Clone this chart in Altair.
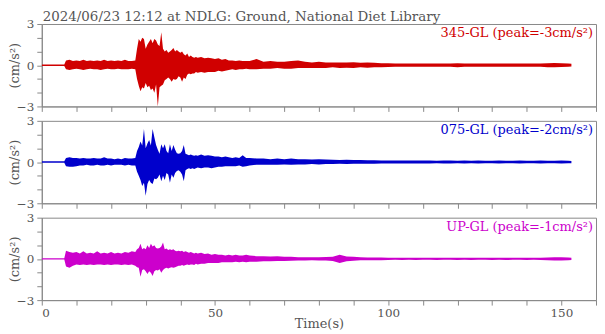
import altair as alt
import pandas as pd

# ---- time grid (s) ----
TIME = ([0, 6.5] + list(range(7, 28)) + [27.5 + 0.5 * i for i in range(36)]
        + list(range(46, 61)) + list(range(62, 153, 2)) + [152.9])

# ---- 345-GL envelope (cm/s^2) ----
U345 = ([0.05, 0.05]
        + [0.35, 0.4, 0.3, 0.35, 0.3, 0.4, 0.3, 0.35, 0.3, 0.35, 0.3, 0.4, 0.3, 0.35, 0.3, 0.35, 0.3, 0.4, 0.3, 0.3, 0.35]
        + [1.2, 1.9, 1.7, 2.0, 1.9, 1.2, 1.5, 1.7, 1.9, 1.6, 1.9, 1.8, 1.5, 1.4, 2.4, 1.2, 1.0, 1.1, 0.9, 1.0,
           1.1, 1.25, 1.0, 1.1, 1.0, 0.9, 1.0, 0.8, 0.7, 0.85, 0.6, 0.7, 0.6, 0.55, 0.6, 0.55]
        + [0.6, 0.5, 0.55, 0.5, 0.45, 0.5, 0.4, 0.45, 0.35, 0.35, 0.3, 0.35, 0.3, 0.3, 0.3]
        + [0.45, 0.25, 0.3, 0.25, 0.25, 0.3, 0.35, 0.25, 0.2, 0.25, 0.2, 0.2, 0.2, 0.2, 0.22, 0.18, 0.2, 0.18, 0.15, 0.15]
        + [0.13, 0.12, 0.13, 0.12, 0.13, 0.12, 0.12, 0.13, 0.12, 0.15, 0.12, 0.12, 0.13, 0.12, 0.12, 0.13, 0.12,
           0.12, 0.13, 0.12, 0.12, 0.13, 0.15, 0.17, 0.14, 0.13]
        + [0.1])
L345 = ([-0.05, -0.05]
        + [-0.3, -0.35, -0.3, -0.25, -0.3, -0.35, -0.3, -0.25, -0.3, -0.3, -0.35, -0.3, -0.25, -0.3, -0.3, -0.25, -0.3, -0.3, -0.3, -0.25, -0.3]
        + [-1.0, -1.5, -1.9, -1.6, -1.7, -1.3, -1.6, -1.5, -1.8, -1.7, -2.0, -1.4, -3.0, -1.6, -1.5, -1.4, -1.1, -1.0, -0.9, -1.0,
           -1.2, -1.0, -1.05, -1.0, -0.8, -0.9, -1.2, -0.9, -1.0, -0.7, -0.6, -0.65, -0.6, -0.6, -0.5, -0.55]
        + [-0.5, -0.55, -0.5, -0.5, -0.5, -0.4, -0.45, -0.4, -0.35, -0.3, -0.35, -0.3, -0.3, -0.25, -0.3]
        + [-0.3, -0.25, -0.25, -0.2, -0.25, -0.25, -0.2, -0.2, -0.2, -0.2, -0.2, -0.15, -0.2, -0.18, -0.2, -0.15, -0.18, -0.15, -0.15, -0.13]
        + [-0.12, -0.11, -0.12, -0.12, -0.11, -0.12, -0.12, -0.11, -0.12, -0.14, -0.12, -0.11, -0.12, -0.12, -0.11, -0.12, -0.12,
           -0.11, -0.12, -0.12, -0.11, -0.12, -0.14, -0.15, -0.13, -0.12]
        + [-0.1])

# ---- 075-GL envelope ----
U075 = ([0.05, 0.05]
        + [0.3, 0.35, 0.3, 0.3, 0.25, 0.3, 0.25, 0.25, 0.3, 0.25, 0.25, 0.35, 0.25, 0.25, 0.2, 0.25, 0.2, 0.3, 0.25, 0.25, 0.3]
        + [0.8, 1.1, 1.5, 1.2, 2.4, 1.0, 1.35, 1.6, 1.2, 2.4, 1.8, 1.25, 0.9, 0.6, 1.3, 1.0, 1.3, 0.8, 0.65, 1.3,
           0.8, 1.25, 0.9, 0.65, 0.6, 0.65, 0.8, 1.25, 0.6, 0.55, 0.5, 0.55, 0.5, 0.45, 0.5, 0.45]
        + [0.55, 0.45, 0.5, 0.45, 0.4, 0.4, 0.35, 0.4, 0.35, 0.3, 0.35, 0.3, 0.5, 0.3, 0.3]
        + [0.25, 0.25, 0.2, 0.25, 0.2, 0.25, 0.2, 0.2, 0.18, 0.2, 0.18, 0.17, 0.15, 0.17, 0.15, 0.15, 0.13, 0.14, 0.12, 0.12]
        + [0.11, 0.12, 0.11, 0.11, 0.12, 0.11, 0.1, 0.11, 0.11, 0.1, 0.11, 0.1, 0.11, 0.1, 0.1, 0.11, 0.1, 0.1,
           0.11, 0.1, 0.1, 0.11, 0.1, 0.1, 0.11, 0.1]
        + [0.08])
L075 = ([-0.05, -0.05]
        + [-0.3, -0.35, -0.35, -0.3, -0.25, -0.25, -0.2, -0.25, -0.25, -0.2, -0.25, -0.25, -0.2, -0.25, -0.2, -0.2, -0.2, -0.25, -0.2, -0.25, -0.25]
        + [-0.7, -1.0, -1.3, -1.75, -1.5, -2.45, -1.6, -1.3, -1.5, -1.6, -1.2, -1.25, -1.15, -0.9, -1.4, -1.0, -1.3, -0.8, -0.9, -1.5,
           -0.9, -1.15, -0.8, -0.65, -0.6, -0.7, -0.9, -1.4, -0.6, -0.5, -0.45, -0.5, -0.45, -0.5, -0.45, -0.4]
        + [-0.45, -0.4, -0.4, -0.45, -0.4, -0.35, -0.35, -0.3, -0.3, -0.3, -0.3, -0.25, -0.35, -0.3, -0.25]
        + [-0.2, -0.2, -0.2, -0.2, -0.18, -0.2, -0.17, -0.17, -0.15, -0.17, -0.15, -0.15, -0.13, -0.14, -0.13, -0.12, -0.12, -0.12, -0.11, -0.11]
        + [-0.1, -0.11, -0.1, -0.1, -0.1, -0.1, -0.09, -0.1, -0.1, -0.09, -0.1, -0.09, -0.1, -0.09, -0.09, -0.1, -0.09, -0.09,
           -0.1, -0.09, -0.09, -0.1, -0.09, -0.09, -0.1, -0.09]
        + [-0.08])

# ---- UP-GL envelope ----
UUP = ([0.05, 0.05]
       + [0.6, 0.5, 0.45, 0.5, 0.4, 0.55, 0.4, 0.45, 0.4, 0.55, 0.4, 0.45, 0.4, 0.5, 0.4, 0.45, 0.4, 0.5, 0.45, 0.55, 0.5]
       + [0.7, 0.8, 1.1, 0.7, 0.8, 0.7, 1.0, 0.8, 1.1, 0.9, 1.0, 0.8, 0.75, 0.8, 0.9, 1.2, 0.7, 0.75, 0.65, 0.7,
          0.65, 0.7, 0.6, 0.55, 0.6, 0.55, 0.6, 0.5, 0.55, 0.5, 0.45, 0.5, 0.45, 0.4, 0.45, 0.4]
       + [0.45, 0.35, 0.4, 0.3, 0.35, 0.3, 0.3, 0.25, 0.3, 0.25, 0.3, 0.25, 0.25, 0.3, 0.25]
       + [0.2, 0.2, 0.18, 0.2, 0.15, 0.15, 0.12, 0.12, 0.12, 0.12, 0.13, 0.15, 0.3, 0.18, 0.15, 0.12, 0.1, 0.1, 0.1, 0.09]
       + [0.08, 0.09, 0.08, 0.08, 0.09, 0.08, 0.08, 0.09, 0.08, 0.08, 0.09, 0.08, 0.08, 0.09, 0.08, 0.08, 0.09, 0.08,
          0.08, 0.09, 0.08, 0.09, 0.11, 0.12, 0.12, 0.11]
       + [0.08])
LUP = ([-0.05, -0.05]
       + [-0.55, -0.65, -0.5, -0.4, -0.45, -0.4, -0.45, -0.4, -0.45, -0.4, -0.4, -0.45, -0.4, -0.45, -0.4, -0.4, -0.45, -0.4, -0.45, -0.4, -0.5]
       + [-0.6, -0.65, -1.3, -0.8, -0.75, -0.9, -1.1, -0.9, -1.0, -1.25, -0.9, -0.8, -0.85, -0.75, -1.0, -0.8, -0.7, -0.65, -0.7, -0.65,
          -0.6, -0.65, -0.6, -0.55, -0.5, -0.5, -0.45, -0.5, -0.45, -0.4, -0.45, -0.4, -0.4, -0.45, -0.35, -0.4]
       + [-0.35, -0.35, -0.3, -0.3, -0.3, -0.3, -0.25, -0.25, -0.25, -0.25, -0.2, -0.25, -0.2, -0.25, -0.2]
       + [-0.2, -0.18, -0.18, -0.15, -0.15, -0.13, -0.12, -0.12, -0.1, -0.12, -0.12, -0.15, -0.3, -0.18, -0.13, -0.1, -0.1, -0.09, -0.09, -0.08]
       + [-0.07, -0.08, -0.07, -0.08, -0.07, -0.07, -0.08, -0.07, -0.07, -0.08, -0.07, -0.08, -0.07, -0.07, -0.08, -0.07, -0.08, -0.07,
          -0.07, -0.08, -0.07, -0.08, -0.1, -0.12, -0.11, -0.1]
       + [-0.08])

LABELS = ["345-GL (peak=-3cm/s²)", "075-GL (peak=-2cm/s²)", "UP-GL (peak=-1cm/s²)"]
COLORS = ["#d00000", "#0000cc", "#cc00cc"]
TITLE = "2024/06/23 12:12 at NDLG: Ground, National Diet Library"
X_TICKS = list(range(0, 161, 10))
Y_TICKS = [-3, -2, -1, 0, 1, 2, 3]

FONT = "DejaVu Serif"
W, H = 558, 83


def panel(up, lo, color, label, top, bottom):
    df = pd.DataFrame({"t": TIME, "hi": up, "lo": lo})
    xkw = dict(values=X_TICKS, labelExpr="datum.value % 50 == 0 ? datum.label : ''",
               tickSize=5, labelPadding=2, grid=False, labelFontSize=12, titleFontSize=13,
               titlePadding=0)
    if bottom:
        xkw["title"] = "Time(s)"
    else:
        xkw["title"] = ""
        xkw["labels"] = False
    area = alt.Chart(df).mark_area(color=color, opacity=1, clip=True).encode(
        x=alt.X("t:Q", scale=alt.Scale(domain=[0, 160], nice=False, zero=False), axis=alt.Axis(**xkw)),
        y=alt.Y("hi:Q", scale=alt.Scale(domain=[-3, 3], nice=False),
                axis=alt.Axis(values=Y_TICKS, labelExpr="datum.value % 3 == 0 ? datum.label : ''",
                              title="(cm/s²)", tickSize=5, labelPadding=3, grid=False,
                              labelFontSize=12, titleFontSize=13,
                              titleX=-20, titleY=H / 2, titleAngle=270, titleAlign="center",
                              titleBaseline="bottom")),
        y2="lo:Q",
    )
    txt = alt.Chart(pd.DataFrame({"label": [label]})).mark_text(
        align="right", baseline="alphabetic", font=FONT, fontSize=13, color=color
    ).encode(x=alt.value(W - 3), y=alt.value(13), text="label:N")
    layers = [area, txt]
    if top:
        ttl = alt.Chart(pd.DataFrame({"title": [TITLE]})).mark_text(
            align="left", baseline="alphabetic", font=FONT, fontSize=13.5, color="#555555"
        ).encode(x=alt.value(1), y=alt.value(-3), text="title:N")
        layers.append(ttl)
    return alt.layer(*layers).properties(width=W, height=H)


chart = alt.vconcat(
    panel(U345, L345, COLORS[0], LABELS[0], True, False),
    panel(U075, L075, COLORS[1], LABELS[1], False, False),
    panel(UUP, LUP, COLORS[2], LABELS[2], False, True),
    spacing=14.5,
    bounds="flush",
).properties(
    padding={"left": 0, "right": 0, "top": 0, "bottom": 0},
).configure_view(stroke="#888888", strokeWidth=1).configure_axis(
    domainColor="#888888", tickColor="#888888", labelColor="#555555", titleColor="#555555",
    labelFont=FONT, titleFont=FONT, titleFontWeight="normal",
)

chart.save("out.html", embed_options={"renderer": "svg", "actions": False})
